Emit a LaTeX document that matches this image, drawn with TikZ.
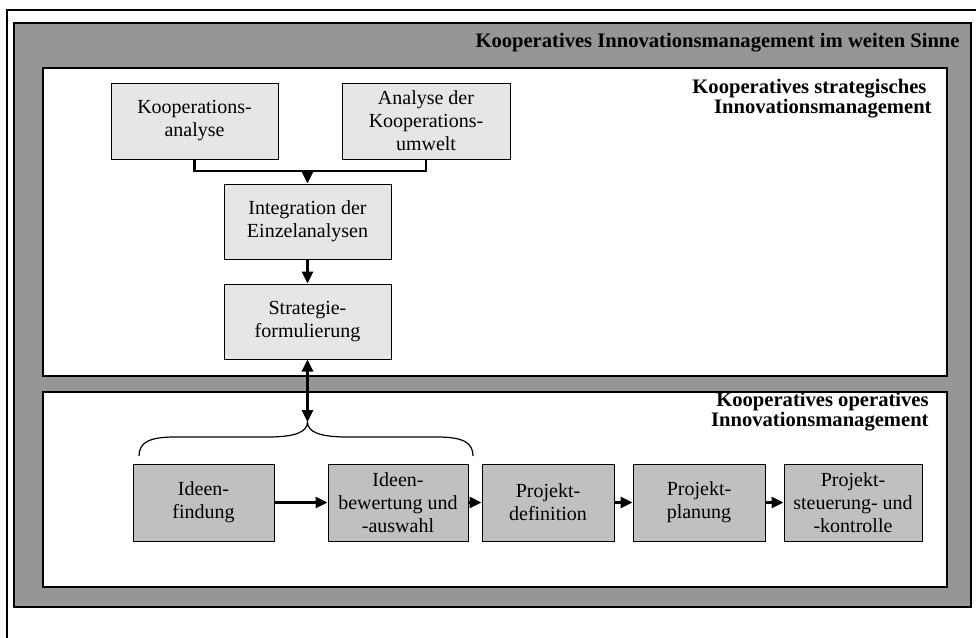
\documentclass[tikz,border=0pt]{standalone}
\usepackage{fontspec}
\setmainfont{Liberation Serif}
\usetikzlibrary{arrows, arrows.meta, positioning, shapes}

\definecolor{panelgray}{RGB}{150,150,150}
\definecolor{boxlight}{RGB}{230,230,230}
\definecolor{boxdark}{RGB}{192,192,192}

\tikzset{
  stratbox/.style={draw, fill=boxlight, line width=0.5pt, align=center, inner sep=0pt,
                   minimum width=83.5pt, minimum height=38pt, font=\fontsize{10}{11.5}\selectfont},
  opbox/.style={stratbox, fill=boxdark, minimum height=38.5pt},
  flow/.style={line width=1.4pt},
  heading/.style={font=\bfseries\fontsize{10.3}{10}\selectfont, align=right, inner sep=0pt}
}

\begin{document}
\begin{tikzpicture}[x=0.5pt, y=-0.5pt, >={Triangle[length=6pt,width=5.5pt]}]
   \useasboundingbox (0,0) rectangle (976,638);

   % Frames
      \draw[line width=0.6pt] (7,638) |- (976,10);
      \draw[fill=panelgray, line width=0.6pt] (14,23) rectangle (971,607);
      \draw[fill=white, line width=0.6pt] (43,68) rectangle (947,376);
      \draw[fill=white, line width=0.6pt] (43,392) rectangle (947,587);

   % Headings
      \node[heading, anchor=base east] (tweit)  at (960,47)  {Kooperatives Innovationsmanagement im weiten Sinne};
      \node[heading, anchor=base east] (tstrat) at (932,113) {Kooperatives strategisches\hspace*{0.25em}\\Innovationsmanagement};
      \node[heading, anchor=base east] (toper)  at (929,426) {Kooperatives operatives\\Innovationsmanagement};

   % Nodes
      \node[stratbox]                     (koop)   at (194.5,121)  {Kooperations-\\analyse};
      \node[stratbox, minimum width=84pt] (umwelt) at (426,121)    {Analyse der\\Kooperations-\\umwelt};
      \node[stratbox, minimum height=37.5pt] (integ) at (307.5,221.5) {Integration der\\Einzelanalysen};
      \node[stratbox, minimum height=37.5pt] (strat) at (307.5,321.5) {Strategie-\\formulierung};

      \node[opbox, minimum width=70.5pt] (ideen)    at (203.5,502.5) {Ideen-\\findung};
      \node[opbox, minimum width=70pt]   (bewert)   at (398,502.5)   {Ideen-\\bewertung und\\-auswahl};
      \node[opbox, minimum width=66pt]   (projdef)  at (548,502.5)   {Projekt-\\definition};
      \node[opbox, minimum width=66pt]   (projplan) at (699,502.5)   {Projekt-\\planung};
      \node[opbox, minimum width=69pt]   (projsteu) at (853,502.5)   {Projekt-\\steuerung- und\\-kontrolle};

      \coordinate (join) at (307.5,171);
      \coordinate (tip)  at (307.5,422);

   % Paths
      \draw[flow]     (koop.south) |- (join) -| (umwelt.south);
      \draw[flow, ->] (join) -- (integ.north);
      \draw[flow, ->] (integ) -- (strat);
      \draw[flow, <->] (strat) -- (tip);
      \draw[line width=0.6pt] (139,456) .. controls (139,442) and (150,437) .. (175,437)
                              -- (268,437) .. controls (295,437) and (307.5,432) .. (tip)
                              .. controls (307.5,432) and (320,437) .. (347,437)
                              -- (437,437) .. controls (462,437) and (473,442) .. (473,456);
      \draw[flow, ->] (ideen)    -- (bewert);
      \draw[flow, ->] (bewert)   -- (projdef);
      \draw[flow, ->] (projdef)  -- (projplan);
      \draw[flow, ->] (projplan) -- (projsteu);
\end{tikzpicture}
\end{document}
